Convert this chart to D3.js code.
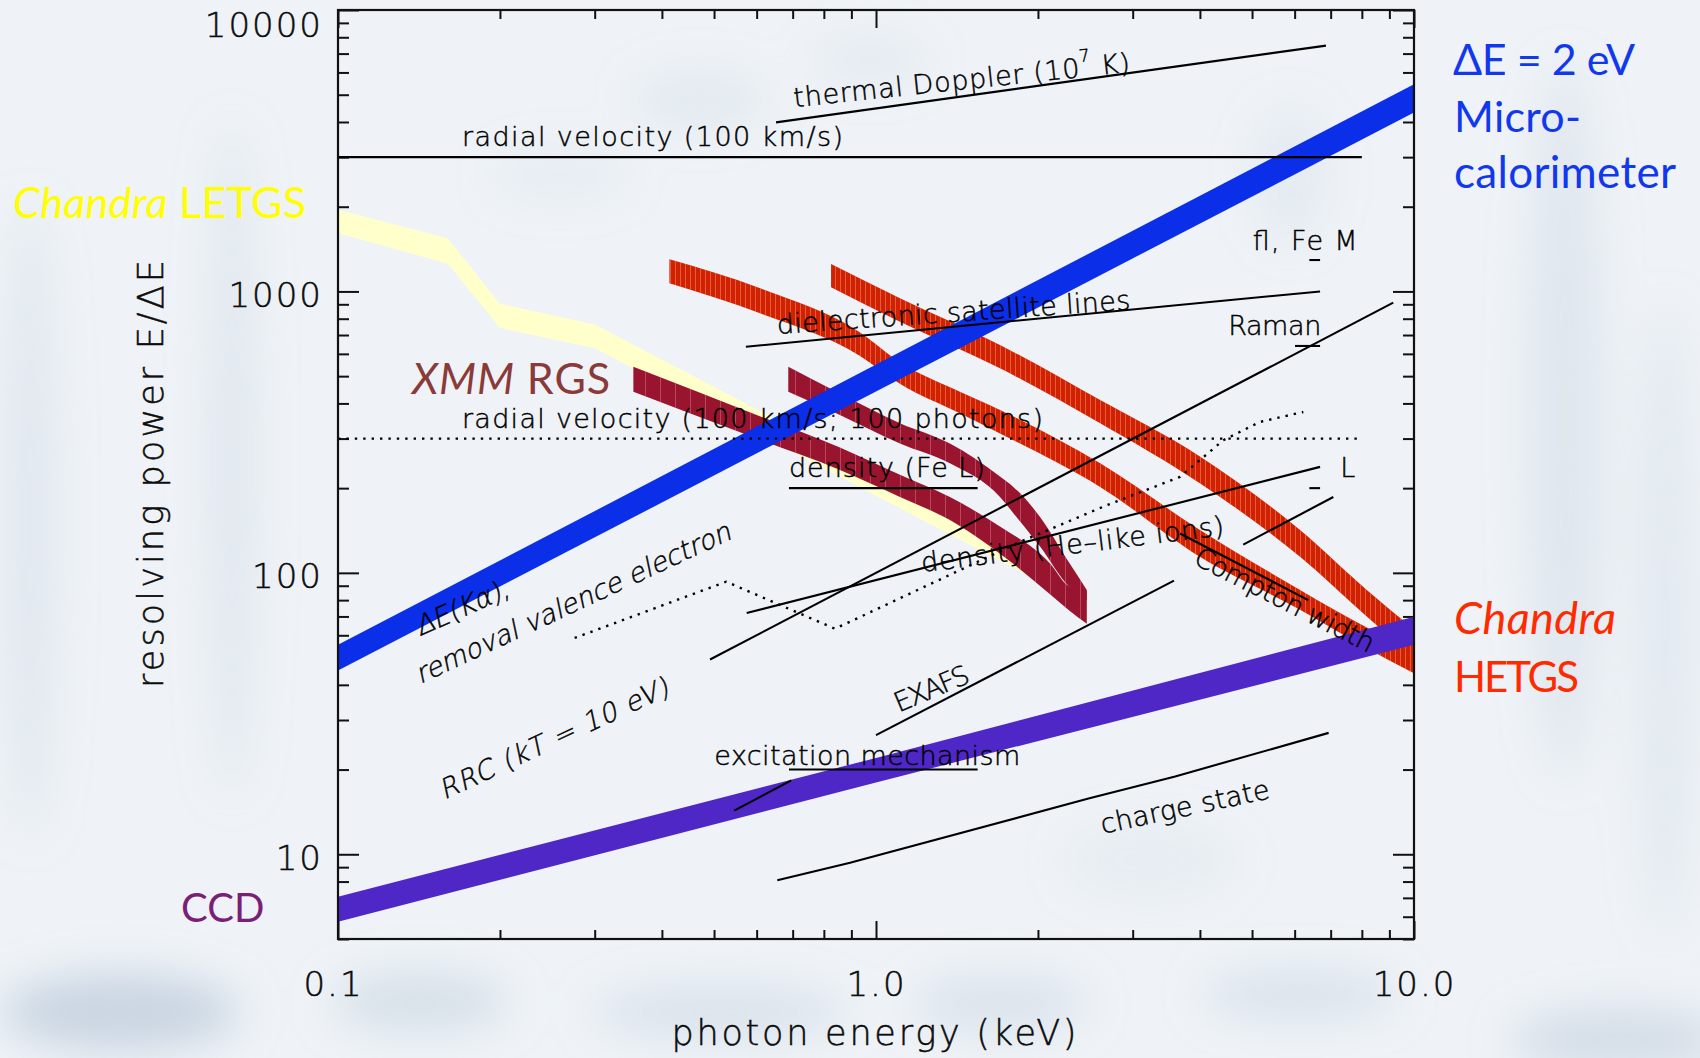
<!DOCTYPE html>
<html>
<head>
<meta charset="utf-8">
<script src="https://cdn.jsdelivr.net/npm/d3@7/dist/d3.min.js"></script>
<style>
  html, body { margin: 0; padding: 0; background: #eef2f6; }
  svg { display: block; }
</style>
</head>
<body>
<svg id="chart" width="1700" height="1058"></svg>
<script>
// values: photon energy in keV, resolving power E/dE
const xTickValues = [0.1, 1, 10];
const xTickLabels = ["0.1", "1.0", "10.0"];
const yTickValues = [10, 100, 1000, 10000];
const yTickLabels = ["10", "100", "1000", "10000"];

// microcalorimeter, dE ~ 2 eV
const calE  = [0.1, 10];
const calHi = [55.5, 5450];
const calLo = [45, 4320];

// CCD
const ccdE  = [0.1, 1, 10];
const ccdHi = [7.07, 22.0, 69.8];
const ccdLo = [5.76, 18.0, 55.5];

// Chandra LETGS
const letgsE  = [0.1, 0.16, 0.2, 0.3, 1.0, 1.9];
const letgsHi = [1950, 1545, 905, 763, 229, 120];
const letgsLo = [1610, 1255, 742, 628, 188, 99];

// XMM RGS, two orders
const rgs1E  = [0.354, 0.6, 0.857, 1.108, 1.372, 1.70, 2.106, 2.277, 2.465];
const rgs1Hi = [540, 364, 279, 223, 186, 146, 108, 90, 86];
const rgs1Lo = [440, 300, 232, 186, 154, 117, 84, 74, 66];
const rgs2E  = [0.687, 0.857, 1.108, 1.372, 1.70, 1.80, 2.018, 2.277, 2.465];
const rgs2Hi = [540, 434, 340, 288, 220, 202, 158, 110, 87];
const rgs2Lo = [440, 364, 288, 245, 186, 163, 124, 90, 80];

// Chandra HETGS (MEG, HEG)
const megE  = [0.413, 0.609, 0.934, 1.108, 1.432, 1.70, 2.61, 4.0, 6.14, 8.17, 10];
const megHi = [1300, 1026, 715, 560, 440, 379, 245, 142, 87, 64, 53];
const megLo = [1069, 836, 590, 470, 369, 313, 202, 114, 74, 54, 44];
const hegE  = [0.825, 1.108, 1.70, 2.61, 4.0, 6.14, 8.17, 10];
const hegHi = [1251, 945, 645, 411, 259, 142, 87, 63];
const hegLo = [1034, 780, 533, 340, 208, 114, 70, 50];

// requirement lines
const thermalE = [0.652, 6.86],  thermalR = [3988, 7472];
const rvE      = [0.1, 8.0],     rvR      = [3000, 3000];
const rv100E   = [0.1, 8.0],     rv100R   = [300, 300];
const dielE    = [0.573, 6.69],  dielR    = [636, 1000];
const rrcE     = [0.4915, 9.15], rrcR     = [49.2, 912];
const flLineE  = [0.575, 6.69],  flLineR  = [72, 238];
const lShortE  = [4.815, 7.08],  lShortR  = [126, 186];
const comptonE = [3.673, 6.36],  comptonR = [138, 80];
const exafsE   = [1.0, 3.58],    exafsR   = [26.5, 93.8];
const feLE     = [0.689, 1.545], feLR     = [200, 200];
const excE     = [0.689, 1.545], excR     = [20, 20];
const excShE   = [0.545, 0.696], excShR   = [14.3, 18.3];
const chargeE  = [0.6555, 0.895, 2.483, 3.598, 6.94];
const chargeR  = [8.08, 9.33, 15.77, 18.9, 27.0];
const flDashE  = [6.39, 6.69],   flDashR  = [1293, 1293];
const ramDashE = [6.01, 6.69],   ramDashR = [640, 640];
const lDashE   = [6.39, 6.69],   lDashR   = [200, 200];
// dotted: removal of valence electron / density of He-like ions
const valE = [0.2753, 0.5268, 0.8391, 1.852, 2.685, 3.673, 4.42, 5.173, 6.227];
const valR = [58.7, 93.0, 63.3, 128.8, 173.9, 219.2, 295.9, 343.8, 373];

// ---------------------------------------------------------------
const W = 1700, H = 1058;
const svg = d3.select("#chart");
const x = d3.scaleLog().domain([0.1, 10]).range([338, 1414]);
const y = d3.scaleLog().domain([5, 10000]).range([939, 10]);
const plotFont = "'DejaVu Sans', 'Open Sans', sans-serif";
const slideFont = "Lato, 'Open Sans', sans-serif";
const isMajor = v => Math.abs(Math.log10(v) - Math.round(Math.log10(v))) < 1e-6;

// thin face, slightly thickened so it reads like the plotted vector font
const thinText = sel => sel.attr("font-family", plotFont).attr("font-weight", 200)
  .attr("stroke", "#000").attr("stroke-width", 0.45);

const defs = svg.append("defs");
defs.append("filter").attr("id", "soft")
  .attr("x", "-100%").attr("y", "-100%").attr("width", "300%").attr("height", "300%")
  .append("feGaussianBlur").attr("stdDeviation", 22);
defs.append("clipPath").attr("id", "plotClip")
  .append("rect").attr("x", 338).attr("y", 10).attr("width", 1076).attr("height", 929);

function hatch(id, step, color, op) {
  const p = defs.append("pattern").attr("id", id)
    .attr("patternUnits", "userSpaceOnUse").attr("width", step).attr("height", 20);
  p.append("line").attr("x1", 0.5).attr("x2", 0.5).attr("y1", 0).attr("y2", 20)
    .attr("stroke", color).attr("stroke-opacity", op).attr("stroke-width", 0.8);
}
hatch("hetgHatch", 5, "#ff9a80", 0.6);
hatch("rgsHatch", 15, "#e08898", 0.55);

// slide background with soft blotches
svg.append("rect").attr("width", W).attr("height", H).attr("fill", "#eff3f7");
const blotches = [
  [120, 1012, 120, 38, 0.55], [420, 1002, 90, 30, 0.35], [720, 1012, 130, 28, 0.3],
  [1000, 1004, 90, 30, 0.28], [1300, 995, 100, 26, 0.3], [1620, 1040, 110, 32, 0.4],
  [30, 520, 26, 320, 0.22], [232, 460, 24, 340, 0.22], [1565, 420, 40, 360, 0.22],
  [1665, 620, 30, 320, 0.18], [700, 100, 70, 30, 0.18], [870, 60, 60, 24, 0.16],
  [1290, 175, 40, 70, 0.15], [560, 175, 70, 25, 0.14], [1150, 860, 90, 40, 0.12]
];
svg.append("g").attr("filter", "url(#soft)")
  .selectAll("ellipse").data(blotches).join("ellipse")
  .attr("cx", d => d[0]).attr("cy", d => d[1]).attr("rx", d => d[2]).attr("ry", d => d[3])
  .attr("fill", "#a9bccf").attr("fill-opacity", d => d[4]);

// ---- axes: ticks point inward, labels outside ----
const tickText = sel => sel.selectAll("text").call(thinText)
  .attr("font-size", 34).attr("fill", "#111").attr("letter-spacing", "2px");

const yLab = new Map(yTickValues.map((v, i) => [v, yTickLabels[i]]));
const xLab = new Map(xTickValues.map((v, i) => [v, xTickLabels[i]]));

const gL = svg.append("g").attr("transform", "translate(338,0)")
  .call(d3.axisLeft(y).tickValues(y.ticks()).tickSize(-11).tickPadding(15)
    .tickFormat(d => yLab.get(d) || ""));
gL.selectAll(".tick line").attr("x2", d => isMajor(d) ? 21 : 11);
gL.call(tickText);
gL.selectAll(".tick text").attr("dy", d => d === 10000 ? "26px" : "0.44em");

const gR = svg.append("g").attr("transform", "translate(1414,0)")
  .call(d3.axisRight(y).tickValues(y.ticks()).tickSize(-11).tickFormat(""));
gR.selectAll(".tick line").attr("x2", d => isMajor(d) ? -21 : -11);

const gB = svg.append("g").attr("transform", "translate(0,939)")
  .call(d3.axisBottom(x).tickValues(x.ticks()).tickSize(-9).tickPadding(33)
    .tickFormat(d => xLab.get(d) || ""));
gB.selectAll(".tick line").attr("y2", d => isMajor(d) ? -18 : -9);
gB.call(tickText);
gB.selectAll(".tick text").attr("dx", d => d === 0.1 ? -5 : 0);

const gT = svg.append("g").attr("transform", "translate(0,10)")
  .call(d3.axisTop(x).tickValues(x.ticks()).tickSize(-9).tickFormat(""));
gT.selectAll(".tick line").attr("y2", d => isMajor(d) ? 18 : 9);

[gL, gR, gB, gT].forEach(g => {
  g.select(".domain").remove();
  g.selectAll(".tick line").attr("stroke", "#111").attr("stroke-width", 2);
});

// ---- instrument bands ----
const plot = svg.append("g").attr("clip-path", "url(#plotClip)");
const zip = (E, hi, lo) => E.map((e, i) => ({ e, hi: hi[i], lo: lo[i] }));
const area = curve => d3.area().curve(curve)
  .x(d => x(d.e)).y0(d => y(d.lo)).y1(d => y(d.hi));

function band(E, hi, lo, color, curve, pattern) {
  const d = area(curve)(zip(E, hi, lo));
  plot.append("path").attr("d", d).attr("fill", color);
  if (pattern) plot.append("path").attr("d", d).attr("fill", `url(#${pattern})`);
}
band(letgsE, letgsHi, letgsLo, "#ffffcc", d3.curveLinear);
band(rgs1E, rgs1Hi, rgs1Lo, "#99152f", d3.curveMonotoneX, "rgsHatch");
band(rgs2E, rgs2Hi, rgs2Lo, "#99152f", d3.curveMonotoneX, "rgsHatch");
band(megE, megHi, megLo, "#d02200", d3.curveMonotoneX, "hetgHatch");
band(hegE, hegHi, hegLo, "#d02200", d3.curveMonotoneX, "hetgHatch");
band(calE, calHi, calLo, "#0b2ee8", d3.curveLinear);
band(ccdE, ccdHi, ccdLo, "#4f27c7", d3.curveLinear);

// frame
svg.append("rect").attr("x", 338).attr("y", 10).attr("width", 1076).attr("height", 929)
  .attr("fill", "none").attr("stroke", "#111").attr("stroke-width", 2.2);

// ---- requirement lines ----
const line = d3.line().x(d => x(d[0])).y(d => y(d[1]));
function req(E, R, dotted) {
  plot.append("path").attr("d", line(E.map((e, i) => [e, R[i]])))
    .attr("fill", "none").attr("stroke", "#000")
    .attr("stroke-width", dotted ? 2.4 : 2.1)
    .attr("stroke-dasharray", dotted ? "2.4 6" : null);
}
[[thermalE, thermalR], [rvE, rvR], [dielE, dielR], [rrcE, rrcR], [flLineE, flLineR],
 [lShortE, lShortR], [comptonE, comptonR], [exafsE, exafsR], [feLE, feLR], [excE, excR],
 [excShE, excShR], [chargeE, chargeR], [flDashE, flDashR], [ramDashE, ramDashR],
 [lDashE, lDashR]].forEach(([E, R]) => req(E, R, false));
req(rv100E, rv100R, true);
req(valE, valR, true);

// ---- annotations (anchored in data coordinates) ----
const notes = svg.append("g").call(thinText).attr("font-size", 27).attr("fill", "#000");

const flatNotes = [
  ["radial velocity (100 km/s)", 0.170, 3287, 381],
  ["radial velocity (100 km/s; 100 photons)", 0.170, 328, 581],
  ["density (Fe L)", 0.689, 218.5, 196],
  ["excitation mechanism", 0.5006, 20.7, 306],
  ["fl, Fe M", 5.013, 1403, 105],
  ["Raman", 4.516, 700, 93],
  ["L", 7.29, 219.6, 0]
];
flatNotes.forEach(([t, e, r, len]) => {
  const s = notes.append("text").attr("x", x(e)).attr("y", y(r)).text(t);
  if (len) s.attr("textLength", len).attr("lengthAdjust", "spacing");
});

// slanted labels; the thin face has no italic, so italics are sheared
const tiltNotes = [
  ["thermal Doppler (10", "7", " K)", 1.442, 5662, -6, 338, false],
  ["dielectronic satellite lines", "", "", 1.393, 847, -4, 354, false],
  ["density (He\u2013like ions)", "", "", 2.318, 127.1, -7, 305, false],
  ["Compton width", "", "", 5.757, 80.6, 27, 198, false],
  ["charge state", "", "", 3.749, 14.83, -12, 172, false],
  ["EXAFS", "", "", 1.267, 39.0, -23, 79, false],
  ["RRC (kT = 10 eV)", "", "", 0.2537, 26.09, -25, 250, true],
  ["removal valence electron", "", "", 0.2752, 79.3, -25, 345, true],
  ["\u0394E(K\u03b1),", "", "", 0.1711, 76.2, -24, 100, true]
];
tiltNotes.forEach(([t, sup, tail, e, r, ang, len, it]) => {
  const s = notes.append("text")
    .attr("transform", `translate(${x(e)},${y(r)}) rotate(${ang})${it ? " skewX(-13)" : ""}`)
    .attr("text-anchor", "middle").attr("dominant-baseline", "central")
    .attr("textLength", len).attr("lengthAdjust", "spacing");
  s.append("tspan").text(t);
  if (sup) {
    s.append("tspan").attr("font-size", 17).attr("dy", -11).text(sup);
    s.append("tspan").attr("dy", 11).text(tail);
  }
});

// ---- axis titles ----
svg.append("text").attr("transform", "translate(163,474) rotate(-90)")
  .call(thinText).attr("text-anchor", "middle")
  .attr("font-size", 35).attr("fill", "#111")
  .attr("textLength", 428).attr("lengthAdjust", "spacing")
  .text("resolving power E/\u0394E");
svg.append("text").attr("x", 874).attr("y", 1045)
  .call(thinText).attr("text-anchor", "middle")
  .attr("font-size", 35).attr("fill", "#111")
  .attr("textLength", 405).attr("lengthAdjust", "spacing")
  .text("photon energy (keV)");

// ---- instrument names ----
function slideLabel(px, py, parts, color, size, len) {
  const t = svg.append("text").attr("x", px).attr("y", py)
    .attr("font-family", slideFont).attr("font-size", size).attr("fill", color);
  if (len) t.attr("textLength", len).attr("lengthAdjust", "spacing");
  parts.forEach(([s, it]) => t.append("tspan").attr("font-style", it ? "italic" : "normal").text(s));
}
slideLabel(13, 218, [["Chandra", true], [" LETGS", false]], "#ffff00", 43, 293);
slideLabel(412, 394, [["XMM", true], [" RGS", false]], "#8a3a38", 43, 198);
slideLabel(1453, 75, [["\u0394E = 2 eV", false]], "#1238ee", 43, 182);
slideLabel(1454, 132, [["Micro-", false]], "#1238ee", 43, 127);
slideLabel(1454, 188, [["calorimeter", false]], "#1238ee", 44, 222);
slideLabel(1454, 634, [["Chandra", true]], "#ff2a00", 45, 162);
slideLabel(1454, 692, [["HETGS", false]], "#ff2a00", 42, 125);
slideLabel(181, 922, [["CCD", false]], "#7a1f78", 40, 0);
</script>
</body>
</html>
